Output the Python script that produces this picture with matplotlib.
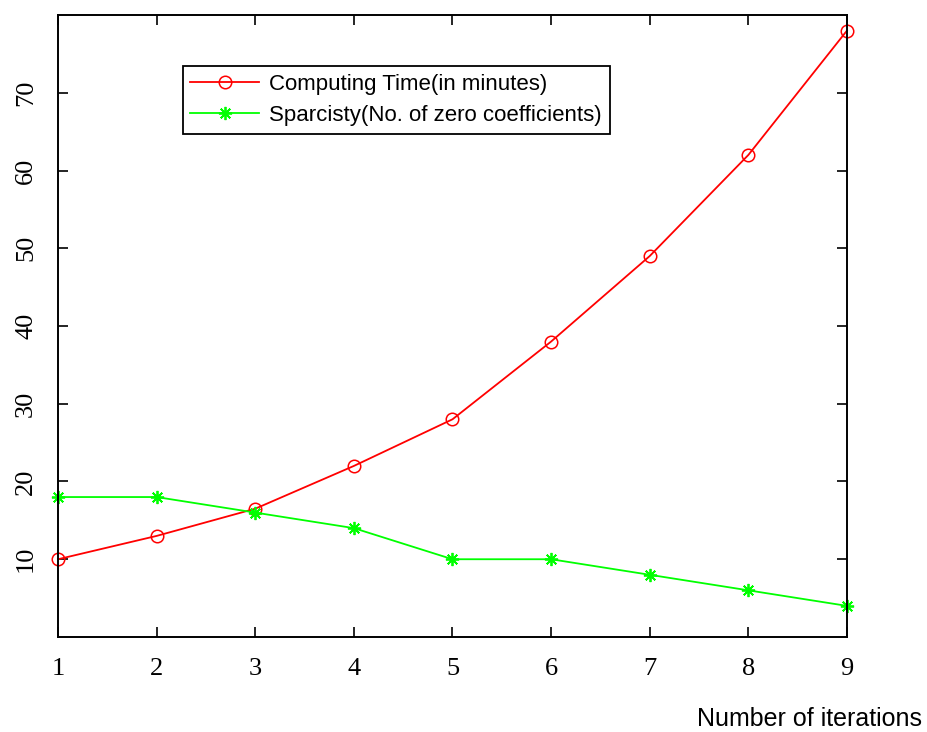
import numpy as np
import matplotlib
matplotlib.use("Agg")
import matplotlib.pyplot as plt

# data
iterations = [1, 2, 3, 4, 5, 6, 7, 8, 9]
computing_time = [10, 13, 16.5, 22, 28, 38, 49, 62, 78]
sparsity = [18, 18, 16, 14, 10, 10, 8, 6, 4]
y_ticks = [10, 20, 30, 40, 50, 60, 70]

fig = plt.figure(figsize=(9.28, 7.32), dpi=100)
ax = fig.add_axes([0.0625, 0.1298, 0.8502, 0.8497])

ax.plot(iterations, computing_time, color='#ff0000', linewidth=1.3,
        marker='o', markersize=9, markerfacecolor='none',
        markeredgecolor='#ff0000', markeredgewidth=1.1,
        label='Computing Time(in minutes)', clip_on=False)
ax.plot(iterations, sparsity, color='#00ff00', linewidth=1.3,
        marker=(8, 2, 0), markersize=9.5, markeredgecolor='#00ff00',
        markeredgewidth=1.3,
        label='Sparcisty(No. of zero coefficients)', clip_on=False)

ax.set_xlim(1, 9)
ax.set_ylim(0, 80)
ax.set_xticks(iterations)
ax.set_yticks(y_ticks)

for s in ax.spines.values():
    s.set_linewidth(1.4)
    s.set_color('black')

ax.tick_params(direction='in', top=True, right=True, length=7, width=1.2,
               labelsize=19, pad=15)
for lab in ax.get_xticklabels() + ax.get_yticklabels():
    lab.set_fontfamily('Liberation Serif')
for lab in ax.get_yticklabels():
    lab.set_rotation(90)
    lab.set_va('center')

ax.set_xlabel('Number of iterations', fontsize=18, fontfamily='Liberation Sans',
              ha='right', va='center')
ax.xaxis.set_label_coords(1.095, -0.132)

leg = ax.legend(loc='upper left', bbox_to_anchor=(0.158, 0.918),
                borderaxespad=0, fancybox=False, shadow=False,
                prop={'family': 'Liberation Sans', 'size': 16},
                handlelength=3.1, handletextpad=0.45, labelspacing=0.45,
                borderpad=0.35, framealpha=1)
leg.get_frame().set_edgecolor('black')
leg.get_frame().set_linewidth(1.3)

fig.savefig('out.png', dpi=100)
